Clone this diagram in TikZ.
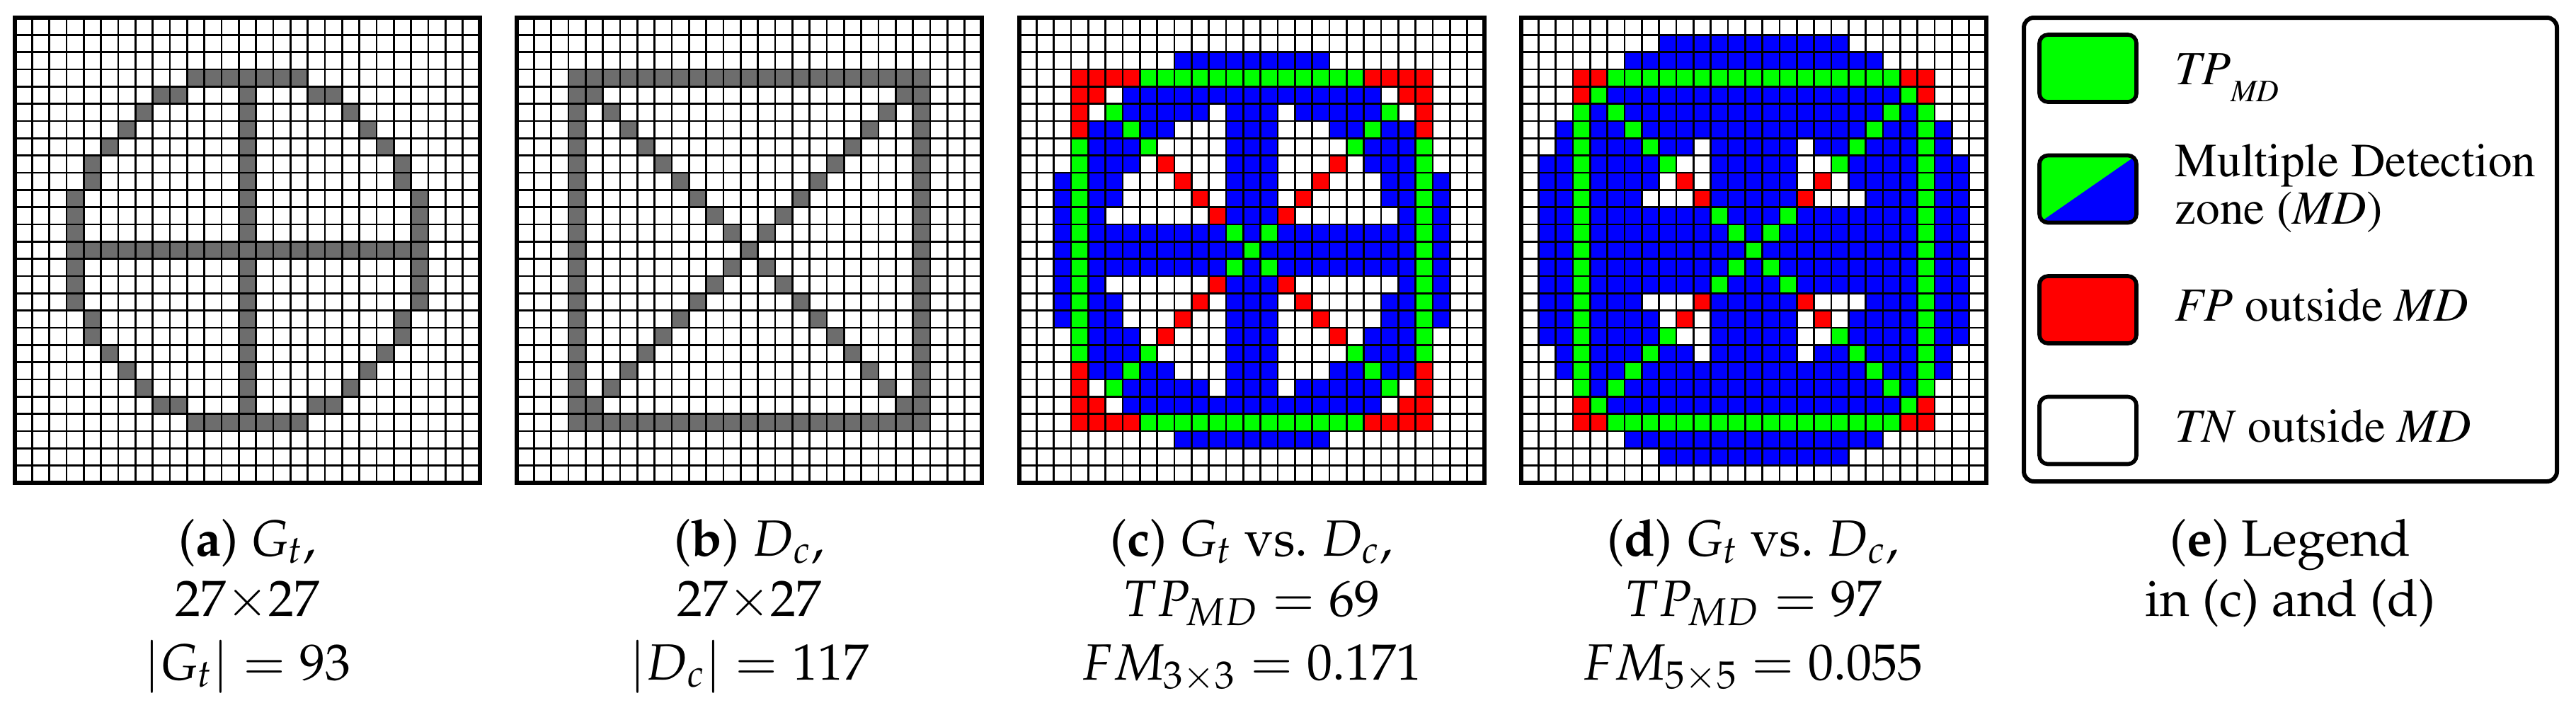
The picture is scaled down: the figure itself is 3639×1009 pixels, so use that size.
\documentclass[tikz,border=0pt]{standalone}
\usepackage[T1]{fontenc}
\usepackage{mathpazo}
\definecolor{cellgray}{RGB}{109,109,109}
\definecolor{mdgreen}{RGB}{0,255,0}
\definecolor{mdblue}{RGB}{0,0,255}
\definecolor{mdred}{RGB}{255,0,0}
\tikzset{
  gridline/.style={line width=0.65pt, black},
  gridborder/.style={line width=1.5pt, black},
  swatch/.style={line width=1.4pt, rounded corners=3pt, draw=black},
  captext/.style={anchor=base, inner sep=0pt, font=\fontsize{18}{21.75}\fontfamily{ppl}\selectfont},
  legtext/.style={anchor=base west, inner sep=0pt, font=\fontsize{16.8}{16.8}\fontfamily{ptm}\selectfont},
}
% cell sets: G = ground truth, D = detection, C = 3x3 dilation of G, E = 5x5 dilation of G
\newcommand\setcell[3]{\expandafter\gdef\csname #1@#2@#3\endcsname{}}
\newcommand\addG[2]{%
  \setcell{G}{#1}{#2}%
  \foreach \dr in {-2,...,2}{%
    \foreach \dc in {-2,...,2}{%
      \setcell{E}{\the\numexpr#1+\dr\relax}{\the\numexpr#2+\dc\relax}%
      \ifnum\numexpr\dr*\dr\relax<2 \ifnum\numexpr\dc*\dc\relax<2
        \setcell{C}{\the\numexpr#1+\dr\relax}{\the\numexpr#2+\dc\relax}%
      \fi\fi
    }%
  }%
}
\foreach \nn in {3,...,23}{\addG{\nn}{13}\addG{13}{\nn}}
\foreach \rr/\cc in {3/10,3/11,3/12,4/8,4/9,5/7,6/6,7/5,8/4,9/4,10/3,11/3,12/3}{%
  \addG{\rr}{\cc}%
  \addG{\rr}{\the\numexpr26-\cc\relax}%
  \addG{\the\numexpr26-\rr\relax}{\cc}%
  \addG{\the\numexpr26-\rr\relax}{\the\numexpr26-\cc\relax}%
}
\foreach \nn in {3,...,23}{\setcell{D}{3}{\nn}\setcell{D}{23}{\nn}\setcell{D}{\nn}{3}\setcell{D}{\nn}{23}}
\foreach \nn in {4,...,22}{\setcell{D}{\nn}{\nn}\setcell{D}{\nn}{\the\numexpr26-\nn\relax}}

\newcommand\panelgrid{%
  \foreach \nn in {1,...,26}{\draw[gridline] (\nn,0) -- (\nn,27); \draw[gridline] (0,\nn) -- (27,\nn);}%
  \draw[gridborder] (0,0) rectangle (27,27);%
}
\newcommand\setfill[1]{%
  \foreach \ri in {0,...,26}{\foreach \ci in {0,...,26}{%
    \ifcsname #1@\ri@\ci\endcsname \fill[cellgray] (\ci,\ri) rectangle ++(1,1);\fi
  }}%
}
\newcommand\cmpfill[1]{%
  \foreach \ri in {0,...,26}{\foreach \ci in {0,...,26}{%
    \ifcsname D@\ri@\ci\endcsname
      \ifcsname #1@\ri@\ci\endcsname\def\cellcol{mdgreen}\else\def\cellcol{mdred}\fi
    \else
      \ifcsname #1@\ri@\ci\endcsname\def\cellcol{mdblue}\else\def\cellcol{none}\fi
    \fi
    \fill[fill=\cellcol] (\ci,\ri) rectangle ++(1,1);
  }}%
}

\begin{document}
\begin{tikzpicture}[x=0.25pt, y=-0.25pt]
\useasboundingbox (0,0) rectangle (3639,1009);

% (a) ground truth
\begin{scope}[xshift=5.25pt, yshift=-6.25pt, x=6.0825pt, y=-6.0825pt]
  \setfill{G}
  \panelgrid
\end{scope}
% (b) detection
\begin{scope}[xshift=182.5pt, yshift=-6.25pt, x=6.0825pt, y=-6.0825pt]
  \setfill{D}
  \panelgrid
\end{scope}
% (c) 3x3 comparison
\begin{scope}[xshift=360pt, yshift=-6.25pt, x=6.0825pt, y=-6.0825pt]
  \cmpfill{C}
  \panelgrid
\end{scope}
% (d) 5x5 comparison
\begin{scope}[xshift=537.25pt, yshift=-6.25pt, x=6.0825pt, y=-6.0825pt]
  \cmpfill{E}
  \panelgrid
\end{scope}

% (e) legend
\draw[line width=1.5pt, rounded corners=3.5pt] (2859,25) rectangle (3612,680);
\filldraw[swatch, fill=mdgreen] (2881,49) rectangle (3018,144);
\begin{scope}
  \clip[rounded corners=3pt] (2881,219.5) rectangle (3018,314.5);
  \fill[mdgreen] (2881,219.5) rectangle (3018,314.5);
  \fill[mdblue] (2881,314.5) -- (3018,314.5) -- (3018,219.5) -- cycle;
\end{scope}
\draw[swatch] (2881,219.5) rectangle (3018,314.5);
\filldraw[swatch, fill=mdred] (2881,390) rectangle (3018,485);
\filldraw[swatch, fill=white] (2881,560.5) rectangle (3018,655.5);

\node[legtext] (ltp) at (3072,119) {\textit{TP}\raisebox{-6pt}{\fontsize{11}{11}\selectfont\textit{MD}}};
\node[legtext] (lmd1) at (3072,249) {Multiple Detection};
\node[legtext] (lmd2) at (3072,316) {zone (\textit{MD})};
\node[legtext] (lfp) at (3072,453.5) {\textit{FP} outside \textit{MD}};
\node[legtext] (ltn) at (3072,624) {\textit{TN} outside \textit{MD}};

% captions
\node[captext] (ca1) at (349.5,785) {(\textbf{a}) $G_t$,};
\node[captext] (ca2) at (349.5,870) {$27{\times}27$};
\node[captext] (ca3) at (349.5,960) {$|G_t| = 93$};
\node[captext] (cb1) at (1058.5,785) {(\textbf{b}) $D_c$,};
\node[captext] (cb2) at (1058.5,870) {$27{\times}27$};
\node[captext] (cb3) at (1058.5,960) {$|D_c| = 117$};
\node[captext] (cc1) at (1768,785) {(\textbf{c}) $G_t$ vs.\ $D_c$,};
\node[captext] (cc2) at (1768,870) {$TP_{MD} = 69$};
\node[captext] (cc3) at (1768,960) {$FM_{3\times3} = 0.171$};
\node[captext] (cd1) at (2476.5,785) {(\textbf{d}) $G_t$ vs.\ $D_c$,};
\node[captext] (cd2) at (2476.5,870) {$TP_{MD} = 97$};
\node[captext] (cd3) at (2476.5,960) {$FM_{5\times5} = 0.055$};
\node[captext] (ce1) at (3235.5,785) {(\textbf{e}) Legend};
\node[captext] (ce2) at (3235.5,870) {in (c) and (d)};
\end{tikzpicture}
\end{document}
